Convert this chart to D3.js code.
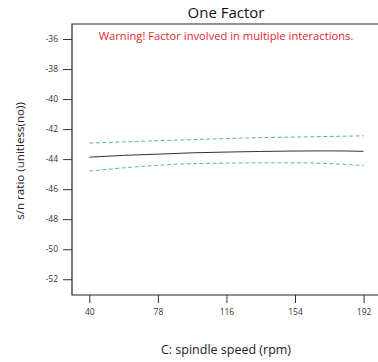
<!DOCTYPE html>
<html>
<head>
<meta charset="utf-8">
<script src="https://cdn.jsdelivr.net/npm/d3@7"></script>
<style>
  body { margin: 0; background: #fff; }
  text { font-family: "Open Sans", "Noto Sans", sans-serif; }
</style>
</head>
<body>
<div id="chart"></div>
<script>
const speed = [40, 59, 78, 97, 116, 135, 154, 173, 192]
const predicted = [-43.87, -43.75, -43.67, -43.58, -43.53, -43.49, -43.46, -43.45, -43.48]
const upper = [-42.93, -42.85, -42.77, -42.70, -42.63, -42.57, -42.53, -42.49, -42.45]
const lower = [-44.80, -44.58, -44.41, -44.30, -44.27, -44.25, -44.25, -44.30, -44.43]
const xTicks = [40, 78, 116, 154, 192]
const yTicks = [-36, -38, -40, -42, -44, -46, -48, -50, -52]

const width = 378, height = 362
const margin = {top: 24, right: 0, bottom: 67, left: 72}

const svg = d3.select("#chart").append("svg")
    .attr("width", width)
    .attr("height", height)

const x = d3.scaleLinear([30.4, 200], [margin.left, width - margin.right])
const y = d3.scaleLinear([-53.05, -35], [height - margin.bottom, margin.top])

// frame: top + left + bottom
svg.append("path")
    .attr("d", `M${width},${margin.top}H${margin.left}V${height - margin.bottom}H${width}`)
    .attr("fill", "none")
    .attr("stroke", "#222")
    .attr("stroke-width", 1.2)

const yAxis = svg.append("g")
    .attr("transform", `translate(${margin.left},0)`)
    .call(d3.axisLeft(y).tickValues(yTicks).tickFormat(d => String(d)).tickSize(9).tickPadding(5))
yAxis.select(".domain").remove()
yAxis.selectAll("line").attr("stroke", "#333")
yAxis.selectAll("text").attr("font-size", 8.5).attr("fill", "#333")
    .attr("font-family", "'Open Sans', sans-serif")

const xAxis = svg.append("g")
    .attr("transform", `translate(0,${height - margin.bottom})`)
    .call(d3.axisBottom(x).tickValues(xTicks).tickSize(8).tickPadding(6))
xAxis.select(".domain").remove()
xAxis.selectAll("line").attr("stroke", "#333")
xAxis.selectAll("text").attr("font-size", 8.5).attr("fill", "#333")
    .attr("font-family", "'Open Sans', sans-serif")

const line = d3.line().curve(d3.curveMonotoneX)
const series = [
  {vals: upper, color: "#5ab3ad", dash: "4,2.5", w: 1},
  {vals: lower, color: "#5ab3ad", dash: "4,2.5", w: 1},
  {vals: predicted, color: "#333", dash: null, w: 1}
]
svg.append("g").selectAll("path")
  .data(series)
  .join("path")
    .attr("fill", "none")
    .attr("stroke", d => d.color)
    .attr("stroke-width", d => d.w)
    .attr("stroke-dasharray", d => d.dash)
    .attr("d", d => line(speed.map((s, i) => [x(s), y(d.vals[i])])))

svg.append("text")
    .attr("x", 226).attr("y", 18)
    .attr("text-anchor", "middle")
    .attr("font-size", 15)
    .attr("fill", "#111")
    .text("One Factor")

svg.append("text")
    .attr("x", 226).attr("y", 40)
    .attr("text-anchor", "middle")
    .attr("font-size", 11.2)
    .attr("fill", "#e0262e")
    .text("Warning! Factor involved in multiple interactions.")

svg.append("text")
    .attr("x", 226).attr("y", 354)
    .attr("text-anchor", "middle")
    .attr("font-size", 12.5)
    .attr("fill", "#222")
    .text("C: spindle speed (rpm)")

svg.append("text")
    .attr("transform", "translate(24,161) rotate(-90)")
    .attr("text-anchor", "middle")
    .attr("font-size", 11.6)
    .attr("fill", "#222")
    .text("s/n ratio (unitless(no))")
</script>
</body>
</html>
